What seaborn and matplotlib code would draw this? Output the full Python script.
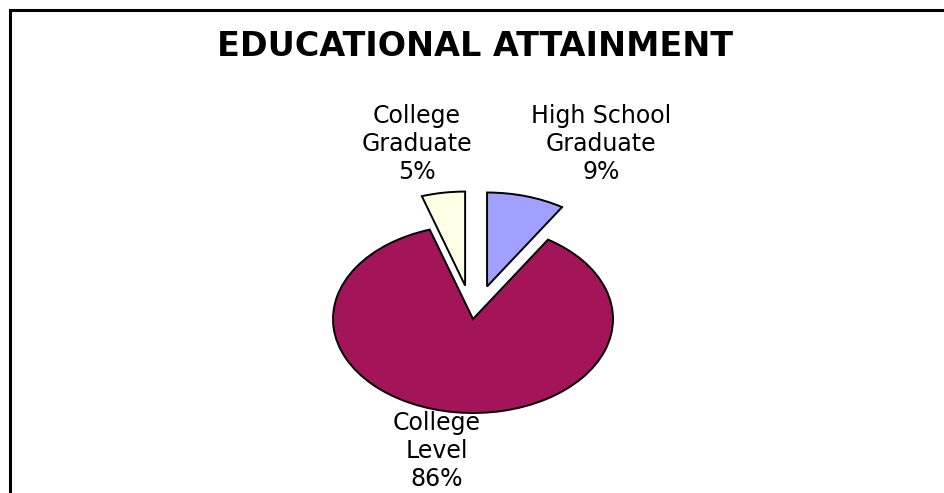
import matplotlib
matplotlib.use("Agg")
import matplotlib.pyplot as plt
import seaborn as sns
from matplotlib.patches import Rectangle

categories = ["High School\nGraduate", "College\nLevel", "College\nGraduate"]
values = [9, 86, 5]
colors = ["#A0A0FF", "#A31459", "#FFFFE8"]
explode = [0.36, 0.0, 0.36]
title = "EDUCATIONAL ATTAINMENT"

sns.set_theme(style="white")
plt.rcParams["font.family"] = ["DejaVu Sans"]

W, H = 945, 493
fig = plt.figure(figsize=(W / 100, H / 100), dpi=100)
fig.patch.set_facecolor("white")

# frame border (open to the right and bottom, as in the reference)
fig.add_artist(Rectangle((10 / W, -0.1), 1.1, 1.1 - 10 / H,
                         transform=fig.transFigure, fill=False,
                         edgecolor="black", linewidth=2.2))

ax = fig.add_axes([0, 0, 1, 1])
cx, cy, rx, ry = 473, 319, 140, 94

wedges, _ = ax.pie(values, colors=colors, explode=explode, startangle=90,
                   counterclock=False, radius=1.0, normalize=True,
                   wedgeprops=dict(edgecolor="black", linewidth=1.4))
ax.set_xlim(-cx / rx, (W - cx) / rx)
ax.set_ylim((cy - H) / ry, cy / ry)
ax.set_aspect("auto")
ax.axis("off")

def px(x, y):
    return (x - cx) / rx, (cy - y) / ry

label_pos = [(601, 144), (437, 451), (417, 144)]
for cat, v, (lx, ly) in zip(categories, values, label_pos):
    x, y = px(lx, ly)
    ax.text(x, y, f"{cat}\n{v}%", ha="center", va="center", fontsize=17,
            linespacing=1.2, color="black")

tx, ty = px(475, 46)
ax.text(tx, ty, title, ha="center", va="center", fontsize=24,
        fontweight="bold", color="black")

fig.savefig("out.png", dpi=100)
